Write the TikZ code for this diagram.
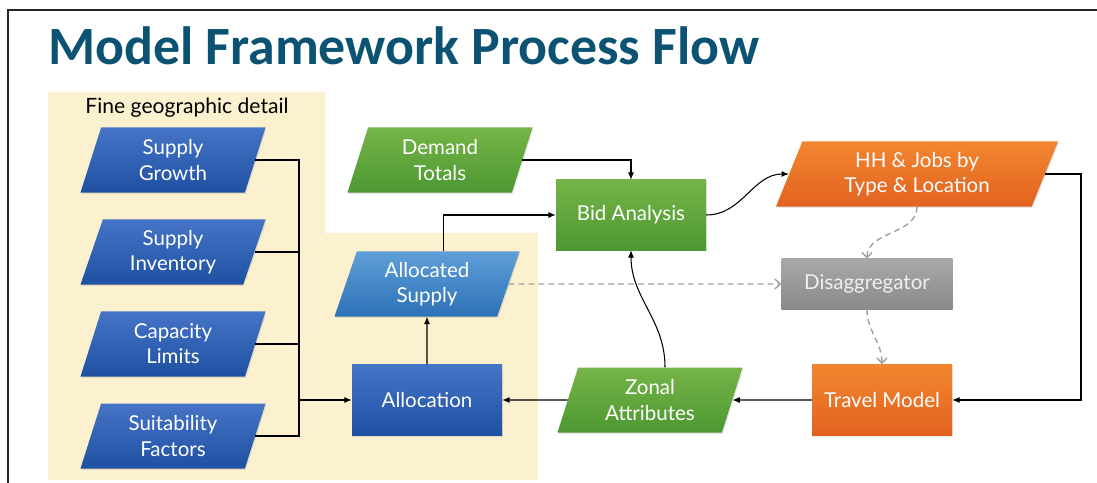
\documentclass[tikz,border=0pt]{standalone}
\usepackage{fontspec}
\setmainfont{Lato}
\newfontfamily\titlefont{Carlito}
\usetikzlibrary{arrows.meta,positioning,shapes.geometric,shadows}

\definecolor{titleblue}{RGB}{12,82,115}
\definecolor{cream}{RGB}{251,241,206}
\definecolor{bluetop}{RGB}{70,116,198}
\definecolor{bluebot}{RGB}{30,80,162}
\definecolor{skytop}{RGB}{96,158,216}
\definecolor{skybot}{RGB}{44,114,182}
\definecolor{greentop}{RGB}{118,180,72}
\definecolor{greenbot}{RGB}{76,152,50}
\definecolor{orangetop}{RGB}{242,134,48}
\definecolor{orangebot}{RGB}{226,98,32}
\definecolor{graytop}{RGB}{168,168,168}
\definecolor{graybot}{RGB}{138,138,138}
\definecolor{dashgray}{RGB}{160,160,160}

\begin{document}
\begin{tikzpicture}[
    x=0.03cm, y=-0.03cm,
    >={Latex[length=2.2mm,width=1.8mm]},
    every node/.style={
        text=white,
        align=center,
        inner sep=0pt,
        font=\fontsize{17.5}{21.5}\selectfont
    },
    shade/.style={
        drop shadow={shadow xshift=0.8pt, shadow yshift=-1.2pt, opacity=0.2}
    },
    data/.style={
        shade,
        trapezium,
        trapezium left angle=63,
        trapezium right angle=117,
        trapezium stretches body,
        minimum width=5.55cm,
        minimum height=1.95cm
    },
    proc/.style={
        shade,
        rectangle,
        minimum width=4.5cm,
        minimum height=2.13cm
    },
    blue/.style={top color=bluetop, bottom color=bluebot},
    sky/.style={top color=skytop, bottom color=skybot},
    green/.style={top color=greentop, bottom color=greenbot},
    orange/.style={top color=orangetop, bottom color=orangebot},
    grey/.style={top color=graytop, bottom color=graybot, text=white!94!black},
    edge/.style={
        ->,
        line width=0.9pt
    },
    link/.style={
        line width=0.9pt
    },
    dashedge/.style={
        -{Straight Barb[length=1.6mm,width=3mm]},
        dashgray,
        line width=1.2pt,
        dash pattern=on 5pt off 3.5pt
    }
]

\useasboundingbox (0,0) rectangle (1097,483);

% Frame
\draw[line width=1.8pt, black!85] (7,10) -- (1097,10);
\draw[line width=1.8pt, black!85] (8,10) -- (8,483);

% Fine geographic area
\fill[cream] (48,92) -- (325,92) -- (325,233) -- (538,233)
    -- (538,480) -- (48,480) -- cycle;

% Title
\node[anchor=base west, text=titleblue, font=\titlefont\bfseries\fontsize{46}{50}\selectfont]
    (title) at (48,65) {Model Framework Process Flow};
\node[text=black, font=\fontsize{18}{21}\selectfont] (fine) at (187,108) {Fine geographic detail};

% Supply inputs
\node[data, blue] (sg) at (173,160) {Supply\\Growth};
\node[data, blue] (si) at (173,252) {Supply\\Inventory};
\node[data, blue] (cl) at (173,344) {Capacity\\Limits};
\node[data, blue] (sf) at (173,436) {Suitability\\Factors};
\coordinate (bus) at (299,400);

% Allocation
\node[proc, blue] (alloc) at (427,400) {Allocation};
\node[data, sky] (as) at (427,284) {Allocated\\Supply};

% Bid
\node[data, green] (dt) at (440,160) {Demand\\Totals};
\node[proc, green, minimum height=2.1cm] (bid) at (631,215) {Bid Analysis};
\node[data, green] (za) at (650,400) {Zonal\\Attributes};

% Outputs
\node[data, orange, minimum width=8.46cm, trapezium left angle=59,
    trapezium right angle=121] (hh) at (917,174) {HH \& Jobs by\\Type \& Location};
\node[proc, grey, minimum width=5.13cm, minimum height=1.5cm] (dis) at (867,284) {Disaggregator};
\node[proc, orange, minimum width=4.2cm] (tm) at (882,400) {Travel Model};
\coordinate (ret) at (1081,400);

% Edges
\draw[link] (sg.east) -| (bus);
\draw[link] (si.east) -| (bus);
\draw[link] (cl.east) -| (bus);
\draw[link] (sf.east) -| (bus);
\draw[edge] (bus) -- (alloc);

\draw[edge] (alloc) -- (as);
\draw[edge] ([xshift=0.5cm]as.north) |- (bid.west);
\draw[edge] (dt.east) -| (bid.north);
\draw[edge] (bid.east) to[out=0, in=180] (hh.west);
\draw[edge] (hh.east) -| (ret) -- (tm.east);
\draw[edge] (tm) -- (za);
\draw[edge] (za) -- (alloc);
\draw[edge] ([xshift=0.45cm]za.north) to[out=90, in=-90] (bid.south);

% Disaggregation
\draw[dashedge] (as.east) -- (dis.west);
\draw[dashedge] (hh.south) to[out=-90, in=90] (dis.north);
\draw[dashedge] (dis.south) to[out=-90, in=90] (tm.north);

\end{tikzpicture}
\end{document}
